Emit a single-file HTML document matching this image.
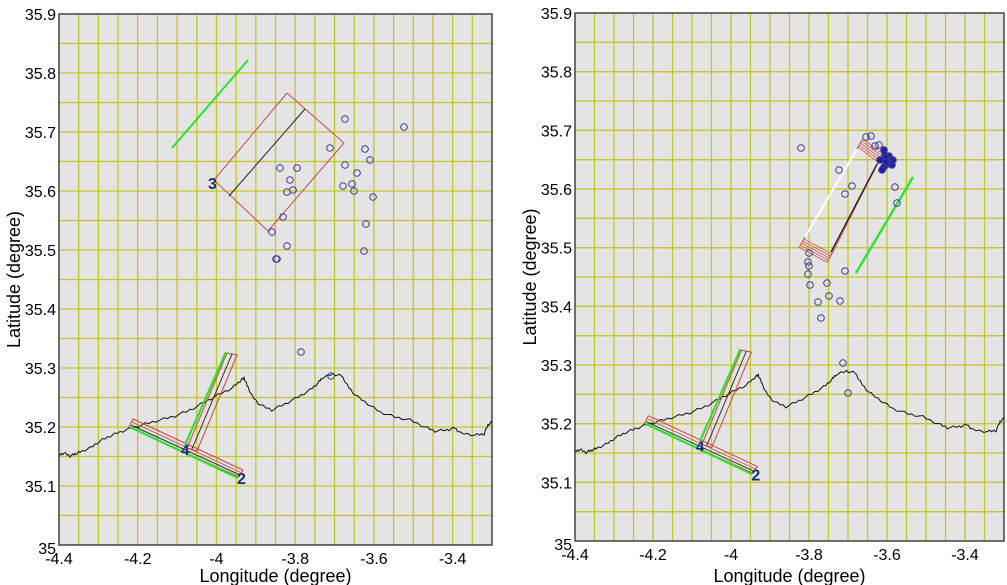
<!DOCTYPE html>
<html><head><meta charset="utf-8"><style>
html,body{margin:0;padding:0;background:#fff;}
svg{display:block;font-family:"Liberation Sans",sans-serif;}
</style></head><body>
<svg id="s" width="1007" height="585" xmlns="http://www.w3.org/2000/svg"></svg>
<script>
const S=document.getElementById('s');let h='';
const L={x0:59,y0:14,x1:492,y1:545}, R={x0:575,y0:13,x1:1004,y1:541};
function ax(p,lx){
  const W=p.x1-p.x0,H=p.y1-p.y0;
  h+=`<rect x="${p.x0}" y="${p.y0}" width="${W}" height="${H}" fill="#e4e4e4"/>`;
  for(let i=1;i<22;i++){const x=p.x0+W*i/22;h+=`<line x1="${x}" y1="${p.y0}" x2="${x}" y2="${p.y1}" stroke="#c6c429" stroke-width="1.3"/>`;}
  for(let i=1;i<18;i++){const y=p.y0+H*i/18;h+=`<line x1="${p.x0}" y1="${y}" x2="${p.x1}" y2="${y}" stroke="#c6c429" stroke-width="1.3"/>`;}
  h+=`<rect x="${p.x0}" y="${p.y0}" width="${W}" height="${H}" fill="none" stroke="#444" stroke-width="1.5"/>`;
  const xl=['-4.4','-4.2','-4','-3.8','-3.6','-3.4'];
  xl.forEach((t,i)=>{const x=p.x0+W*(i*0.2)/1.1;h+=`<text x="${x}" y="${p.y1+19}" font-size="16" text-anchor="middle">${t}</text>`;});
  for(let i=0;i<10;i++){const y=p.y1-H*i/9;const t=i==0?'35':(35+i/10).toFixed(1);
    h+=`<text x="${p.x0-3}" y="${y+(i==0?9:6)}" font-size="16" text-anchor="end">${t}</text>`;}
  h+=`<text x="${(p.x0+p.x1)/2}" y="582" font-size="18" text-anchor="middle">Longitude (degree)</text>`;
  h+=`<text transform="translate(${lx},${(p.y0+p.y1)/2}) rotate(-90)" font-size="18" text-anchor="middle">Latitude (degree)</text>`;
}
ax(L,20);ax(R,536);
function tr(q,right){if(!right)return q;const[x,y]=q;return[575+(x-59)*429/433,13+(y-14)*528/531];}
function pl(pts,right,st,w){return `<polyline points="${pts.map(q=>tr(q,right).join(',')).join(' ')}" fill="none" stroke="${st}" stroke-width="${w}"/>`;}
const coast=[[59,455],[64,453],[70,456],[75,454],[80,452],[90,448],[100,441],[110,436],[120,432],[132,428],[145,424],[160,420],[175,416],[190,410],[205,402],[218,395],[232,388],[240,381],[244,378],[247,385],[252,396],[260,405],[272,410],[285,404],[298,397],[310,390],[318,383],[322,378],[333,374],[342,376],[347,385],[355,395],[368,404],[380,412],[395,417],[410,420],[425,427],[435,431],[447,430],[455,428],[460,433],[475,435],[484,434],[488,425],[492,422]];
let c2=[];for(let i=0;i<coast.length-1;i++){const a=coast[i],b=coast[i+1];for(let k=0;k<4;k++){const t=k/4;c2.push([a[0]+(b[0]-a[0])*t,a[1]+(b[1]-a[1])*t+((i*7+k*3)%5-2)*0.6]);}}c2.push(coast[coast.length-1]);
function fault(right){
  let s='';
  s+=pl([[133,419],[243,470],[239,477],[129,427],[133,419]],right,'#d04040',1);
  s+=pl([[132,422],[242,473]],right,'#b07070',1);
  s+=pl([[131,425],[240,475]],right,'#333',1);
  s+=pl([[130,427],[238,478]],right,'#30e030',2.2);
  s+=pl([[227,353],[237,355],[197,451],[187,448],[227,353]],right,'#d04040',1);
  s+=pl([[232,354],[192,449]],right,'#333',1);
  s+=pl([[226,352],[185,445]],right,'#30e030',2.2);
  const a=tr([186,455],right),b=tr([241,484],right);
  s+=`<text x="${a[0]-5}" y="${a[1]}" font-size="15" font-weight="bold" fill="#1a2a80">4</text>`;
  s+=`<text x="${b[0]-4}" y="${b[1]}" font-size="16" font-weight="bold" fill="#1a2a80">2</text>`;
  return s;
}
h+=pl(c2,false,'#111',1)+pl(c2,true,'#111',1);
h+=fault(false)+fault(true);
// left specific
h+=pl([[172,148],[248,60]],false,'#30e030',2);
h+=pl([[287,93],[344,143],[268,231],[214,180],[287,93]],false,'#c05050',1);
h+=pl([[305,109],[229,196]],false,'#222',1);
h+=`<text x="208" y="189" font-size="16" font-weight="bold" fill="#1a2a80">3</text>`;
const cl=[[345,119],[330,148],[365,149],[370,160],[345,165],[280,168],[297,168],[357,173],[290,180],[343,186],[352,184],[287,192],[293,190],[354,191],[373,197],[283,217],[366,224],[272,232],[287,246],[364,251],[276,259],[277,259],[404,127],[301,352],[331,376]];
cl.forEach(([x,y])=>h+=`<circle cx="${x}" cy="${y}" r="3.3" fill="none" stroke="#3a3aa0" stroke-width="1"/>`);
// right rectangle: long axis direction
const A=[858,147],B=[878,162],C=[832,254],D=[804,239];
const ux=(A[0]-D[0]),uy=(A[1]-D[1]);const ul=Math.hypot(ux,uy);const ex=ux/ul,ey=uy/ul;
for(let k=0;k<5;k++){const d=k*2.4;
  const p=[[A[0]+ex*d,A[1]+ey*d],[B[0]+ex*d,B[1]+ey*d],[C[0]-ex*d,C[1]-ey*d],[D[0]-ex*d,D[1]-ey*d]];
  h+=`<polygon points="${p.map(q=>q.join(',')).join(' ')}" fill="none" stroke="#d06060" stroke-width="0.9"/>`;}
h+=pl([[857,149],[805,237]],false,'#fff',2.2);
h+=pl([[877,164],[831,252]],false,'#111',1.2);
h+=pl([[913,177],[856,273]],false,'#30e030',2.4);
const cr=[[801,148],[866,137],[871,136],[875,146],[879,145],[884,150],[885,155],[889,156],[886,158],[890,161],[888,164],[884,167],[882,170],[886,162],[892,165],[893,160],[880,160],[839,170],[852,186],[845,194],[895,187],[897,203],[809,253],[808,262],[809,266],[808,274],[810,285],[827,283],[845,271],[829,296],[818,302],[840,301],[821,318],[843,363],[848,393]];
cr.forEach(([x,y],i)=>{const f=(i>=5&&i<=16)?'#2020a0':'none';h+=`<circle cx="${x}" cy="${y}" r="3.3" fill="${f}" stroke="#3a3aa0" stroke-width="1"/>`;});
S.innerHTML=h;
</script>
</body></html>
